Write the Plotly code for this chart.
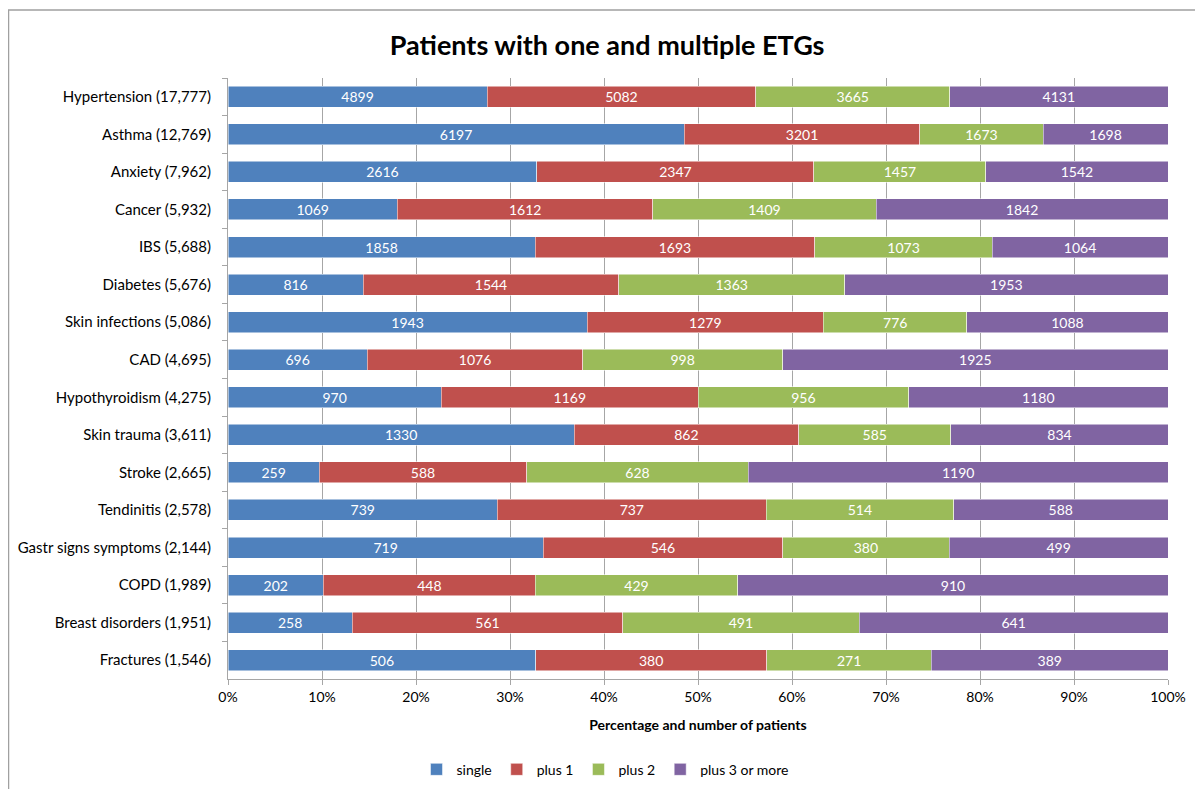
import plotly.graph_objects as go

# Conditions (top to bottom) and number of patients per ETG group
conditions = ["Hypertension", "Asthma", "Anxiety", "Cancer", "IBS", "Diabetes",
              "Skin infections", "CAD", "Hypothyroidism", "Skin trauma", "Stroke",
              "Tendinitis", "Gastr signs symptoms", "COPD", "Breast disorders", "Fractures"]
single = [4899, 6197, 2616, 1069, 1858, 816, 1943, 696, 970, 1330, 259, 739, 719, 202, 258, 506]
plus1 = [5082, 3201, 2347, 1612, 1693, 1544, 1279, 1076, 1169, 862, 588, 737, 546, 448, 561, 380]
plus2 = [3665, 1673, 1457, 1409, 1073, 1363, 776, 998, 956, 585, 628, 514, 380, 429, 491, 271]
plus3 = [4131, 1698, 1542, 1842, 1064, 1953, 1088, 1925, 1180, 834, 1190, 588, 499, 910, 641, 389]
x_ticks = [0, 10, 20, 30, 40, 50, 60, 70, 80, 90, 100]

totals = [a + b + c + d for a, b, c, d in zip(single, plus1, plus2, plus3)]
labels = [f"{name} ({tot:,})" for name, tot in zip(conditions, totals)]

series = [
    ("single", single, "#4F81BD"),
    ("plus 1", plus1, "#C0504D"),
    ("plus 2", plus2, "#9BBB59"),
    ("plus 3 or more", plus3, "#8064A2"),
]

FONT = "Lato"

fig = go.Figure()
for name, vals, color in series:
    fig.add_trace(go.Bar(
        y=labels, x=vals, name=name, orientation="h",
        marker=dict(color=color, line=dict(color="white", width=0.5)),
        text=vals, textposition="inside", insidetextanchor="middle",
        textangle=0, constraintext="none",
        textfont=dict(color="white", size=14, family=FONT),
    ))

L, R, T, B = 220, 43, 70, 118
PW, PH = 1203 - L - R, 789 - T - B

fig.update_layout(
    barmode="stack",
    barnorm="percent",
    bargap=0.44,
    width=1203, height=789,
    margin=dict(l=L, r=R, t=T, b=B, autoexpand=False),
    paper_bgcolor="white",
    plot_bgcolor="white",
    font=dict(family=FONT, size=14, color="black"),
    title=dict(text="<b>Patients with one and multiple ETGs</b>",
               x=0.498, xref="container", y=0.953, yref="container",
               xanchor="center", yanchor="middle",
               font=dict(size=27, family=FONT, color="black")),
    legend=dict(orientation="h", x=(605 - 228) / PW, xanchor="center",
                y=-0.151, yanchor="middle", traceorder="normal",
                font=dict(size=14, family=FONT), itemwidth=30),
    showlegend=True,
)

fig.update_xaxes(
    range=[0, 100], tickvals=x_ticks, ticktext=[f"{t}%" for t in x_ticks],
    tickangle=0, automargin=False,
    showgrid=True, gridcolor="#A6A6A6", gridwidth=1,
    showline=True, linecolor="#A6A6A6", linewidth=1,
    ticks="outside", ticklen=5, tickcolor="#A6A6A6",
    zeroline=False,
    tickfont=dict(size=14, family=FONT),
    title=dict(text="<b>Percentage and number of patients</b>",
               font=dict(size=14, family=FONT), standoff=16),
)
fig.update_yaxes(
    autorange="reversed", showgrid=False, automargin=False,
    showline=True, linecolor="#A6A6A6", linewidth=1,
    ticks="outside", ticklen=5, tickcolor="#A6A6A6", tickson="boundaries",
    tickfont=dict(size=15, family=FONT), ticklabelstandoff=13,
)

# outer chart border (Excel chart area frame)
fig.add_shape(type="rect", xref="paper", yref="paper",
              x0=(0.5 - L) / PW, x1=1.2, y0=-0.4, y1=(PH + T - 2) / PH,
              line=dict(color="#A0A0A0", width=1.5), layer="below")

fig.write_html("out.html")
